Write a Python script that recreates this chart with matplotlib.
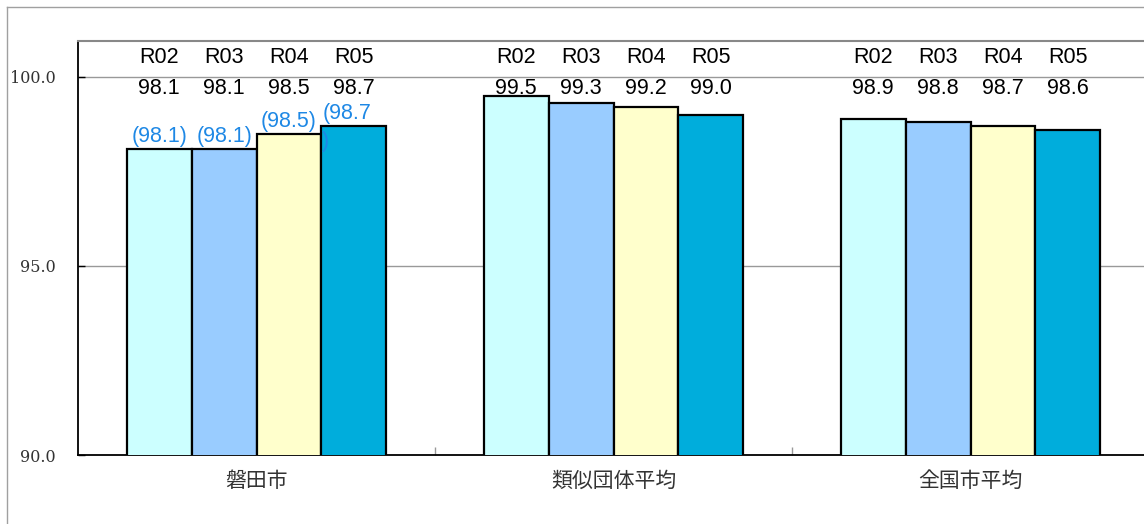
import matplotlib
matplotlib.use("Agg")
import matplotlib.pyplot as plt
import matplotlib.transforms as mtransforms
from matplotlib.lines import Line2D
import numpy as np

categories = ["磐田市", "類似団体平均", "全国市平均"]
years = ["R02", "R03", "R04", "R05"]
values = {
    "R02": [98.1, 99.5, 98.9],
    "R03": [98.1, 99.3, 98.8],
    "R04": [98.5, 99.2, 98.7],
    "R05": [98.7, 99.0, 98.6],
}
value_labels = {
    "R02": ["98.1", "99.5", "98.9"],
    "R03": ["98.1", "99.3", "98.8"],
    "R04": ["98.5", "99.2", "98.7"],
    "R05": ["98.7", "99.0", "98.6"],
}
blue_labels = ["(98.1)", "(98.1)", "(98.5)", "(98.7\n)"]
colors = ["#CCFFFF", "#99CCFF", "#FFFFCC", "#00ADDC"]
yticks = [90.0, 95.0, 100.0]
ytick_labels = ["90.0", "95.0", "100.0"]

W, H = 1144, 524
fig = plt.figure(figsize=(W / 100, H / 100), dpi=100)

# figure frame (top and left visible)
fig.add_artist(Line2D([7 / W, 1.0], [1 - 7 / H, 1 - 7 / H], transform=fig.transFigure, color="#a0a0a0", lw=1))
fig.add_artist(Line2D([7 / W, 7 / W], [0.0, 1 - 7 / H], transform=fig.transFigure, color="#a0a0a0", lw=1))

left, right, top, bottom = 78, 1149, 41, 455
ax = fig.add_axes([left / W, 1 - bottom / H, (right - left) / W, (bottom - top) / H])

x = np.arange(len(categories))
bw = 0.1815
for i, yr in enumerate(years):
    off = (i - 1.5) * bw
    ax.bar(x + off, values[yr], width=bw, bottom=0, color=colors[i],
           edgecolor="black", linewidth=1.6, zorder=3)

ax.set_ylim(90, 100.95)
ax.set_xlim(-0.5, 2.5)
ax.set_yticks(yticks)
ax.set_yticklabels(ytick_labels, family="DejaVu Serif", fontsize=11.5, color="#333333")
ax.tick_params(axis="y", direction="in", length=5, width=1, color="black", pad=16)
ax.set_xticks(x)
ax.set_xticklabels(categories, family=["Noto Sans CJK JP", "DejaVu Sans"], fontsize=15, color="#333333")
ax.tick_params(axis="x", which="major", length=0, pad=11)
ax.set_xticks([0.5, 1.5], minor=True)
ax.tick_params(axis="x", which="minor", direction="in", length=6, color="#999999", width=1)

for yv in [95.0, 100.0]:
    ax.axhline(yv, color="#999999", lw=1, zorder=1)

ax.spines["left"].set_color("black")
ax.spines["left"].set_linewidth(1.3)
ax.spines["bottom"].set_color("black")
ax.spines["bottom"].set_linewidth(1.3)
ax.spines["top"].set_color("#888888")
ax.spines["top"].set_linewidth(1.5)
ax.spines["right"].set_visible(False)

trans = mtransforms.blended_transform_factory(ax.transData, ax.transAxes)
yr_y = (bottom - 57.5) / (bottom - top)
val_y = (bottom - 88) / (bottom - top)
for i, yr in enumerate(years):
    off = (i - 1.5) * bw
    for g in range(len(categories)):
        ax.text(x[g] + off, yr_y, yr, transform=trans, ha="center", va="center",
                family="Liberation Sans", fontsize=15.5, color="black")
        ax.text(x[g] + off, val_y, value_labels[yr][g], transform=trans, ha="center", va="center",
                family="Liberation Sans", fontsize=15.5, color="black")

# blue labels for first group
for i, lab in enumerate(blue_labels):
    off = (i - 1.5) * bw
    v = values[years[i]][0]
    if "\n" in lab:
        ax.annotate(lab, (x[0] + off - bw / 2, v), xytext=(1, 23), textcoords="offset pixels",
                    ha="left", va="top", family="Liberation Sans", fontsize=15.5,
                    color="#1E88E5", linespacing=1.45, zorder=5)
    else:
        ax.annotate(lab, (x[0] + off, v), xytext=(0, 23), textcoords="offset pixels",
                    ha="center", va="top", family="Liberation Sans", fontsize=15.5,
                    color="#1E88E5", zorder=5)

fig.savefig("out.png", dpi=100)
